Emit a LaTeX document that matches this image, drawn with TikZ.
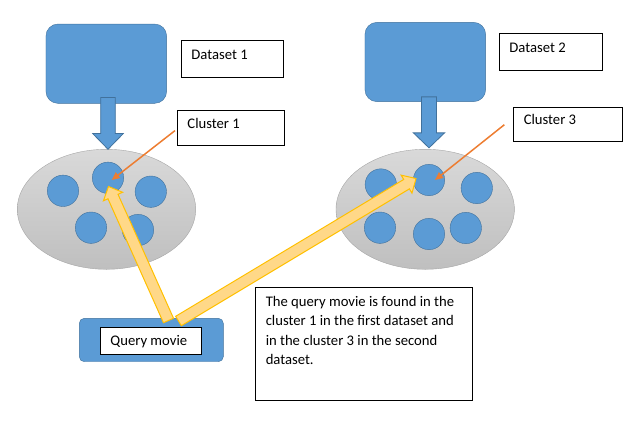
\documentclass[tikz,border=0pt]{standalone}
\usepackage{fontspec}
\setmainfont{Carlito}
\usetikzlibrary{shapes.geometric,calc,arrows.meta}

\definecolor{boxblue}{HTML}{5B9BD5}
\definecolor{edgeblue}{HTML}{41719C}
\definecolor{lightgray}{HTML}{D9D9D9}
\definecolor{midgray}{HTML}{BFBFBF}
\definecolor{edgegray}{HTML}{A6A6A6}
\definecolor{orng}{HTML}{ED7D31}
\definecolor{ylwfill}{HTML}{FFD888}
\definecolor{ylwedge}{HTML}{FFC000}

% block arrow: style, from, to, shaft half width, head half width, head length
\newcommand\blockarrow[6]{%
  \coordinate (ba-s) at (#2);
  \coordinate (ba-t) at (#3);
  \coordinate (ba-h) at ($(ba-t)!#6!(ba-s)$);
  \draw[#1] ($(ba-s)!#4!90:(ba-t)$) -- ($(ba-h)!#4!-90:(ba-s)$)
    -- ($(ba-h)!#5!-90:(ba-s)$) -- (ba-t) -- ($(ba-h)!#5!90:(ba-s)$)
    -- ($(ba-h)!#4!90:(ba-s)$) -- ($(ba-s)!#4!-90:(ba-t)$) -- cycle;
}

\begin{document}
\begin{tikzpicture}[x=1pt, y=-1pt,
  every node/.style={font=\fontsize{14.67}{19.4}\selectfont},
  data/.style={draw=edgeblue, fill=boxblue, rounded corners=12pt, minimum width=120.7pt, minimum height=79.3pt},
  grp/.style={ellipse, draw=edgegray, top color=lightgray, bottom color=midgray, minimum width=178.4pt, minimum height=120pt, inner sep=0pt},
  clu/.style={circle, draw=edgeblue, fill=boxblue, minimum size=31.4pt, inner sep=0pt},
  tbox/.style={draw, line width=0.9pt, fill=white, anchor=north west, inner xsep=10pt, inner ysep=0pt, align=flush left,
    execute at begin node={\spaceskip=0pt\xspaceskip=0pt}},
  pointer/.style={orng, line width=1.5pt, -{Triangle[length=8pt, width=7pt]}},
  down/.style={draw=edgeblue, fill=boxblue, line width=0.8pt},
  hit/.style={draw=ylwedge, fill=ylwfill, line width=1pt}]
\useasboundingbox (0,0) rectangle (640,426);

% datasets
\node[data] (d1) at (106.3,63.7) {};
\node[data] (d2) at (425.3,62) {};

% cluster groups
\node[grp] (g1) at (106.5,209.3) {};
\node[grp] (g2) at (425.2,209.3) {};
\blockarrow{down}{$(d1.south)+(1.7,-6)$}{$(d1.south -| 108,0)+(0,45.7)$}{7.3pt}{15.3pt}{15.7pt}
\blockarrow{down}{$(d2.south)+(3.7,-5)$}{$(d2.south -| 429,0)+(0,46)$}{7.5pt}{15.6pt}{15pt}

\node[clu] (a1) at (63,190.8) {};
\node[clu] (a2) at (108,177.8) {};
\node[clu] (a3) at (150.8,191.7) {};
\node[clu] (a4) at (91,227.7) {};
\node[clu] (a5) at (138,230) {};
\node[clu] (b1) at (380.8,184.5) {};
\node[clu] (b2) at (429,180) {};
\node[clu] (b3) at (476.8,188) {};
\node[clu] (b4) at (380,227.7) {};
\node[clu] (b5) at (429,234) {};
\node[clu] (b6) at (465.8,228) {};

% labels
\node[tbox, text width=82pt, text height=19pt, text depth=18pt] (n1) at (181,40) {Dataset 1};
\node[tbox, text width=82.7pt, text height=18.4pt, text depth=18.6pt] (n2) at (499,33.3) {Dataset 2};
\node[tbox, text width=87pt, text height=18pt, text depth=17.3pt] (c1) at (177,110) {Cluster 1};
\node[tbox, text width=88.4pt, text height=17.3pt, text depth=17.3pt] (c3) at (513.3,106.7) {Cluster 3};

\coordinate (p1) at ($(c1.west)+(-2,2.5)$);
\coordinate (p2) at ($(c3.west)+(-9,0.3)$);
\draw[pointer] (p1) -- ($(a2.center)+(3.7,2.2)$);
\draw[pointer] (p2) -- ($(b2.center)+(6,0)$);

% query
\node[draw=edgeblue, fill=boxblue, rounded corners=5pt, minimum width=144pt, minimum height=43.4pt] (q) at (151.3,340) {};
\coordinate (qa) at (168.5,320.5);
\coordinate (qb) at (178.5,321);
\coordinate (ha) at (108.5,186.5);
\coordinate (hb) at (416,178.5);
\blockarrow{hit}{qa}{ha}{5.5pt}{10.5pt}{11pt}
\blockarrow{hit}{qb}{hb}{5.5pt}{10.5pt}{11pt}
\node[tbox, text width=80.7pt, text height=18.3pt, text depth=9.3pt] (qm) at (100,326.7) {Query movie};

\node[tbox, text width=196.4pt, text height=19.3pt, text depth=94pt] (res) at (255.3,286.7)
  {The query movie is found in the\\cluster 1 in the first dataset and\\in the cluster 3 in the second\\dataset.};
\end{tikzpicture}
\end{document}
